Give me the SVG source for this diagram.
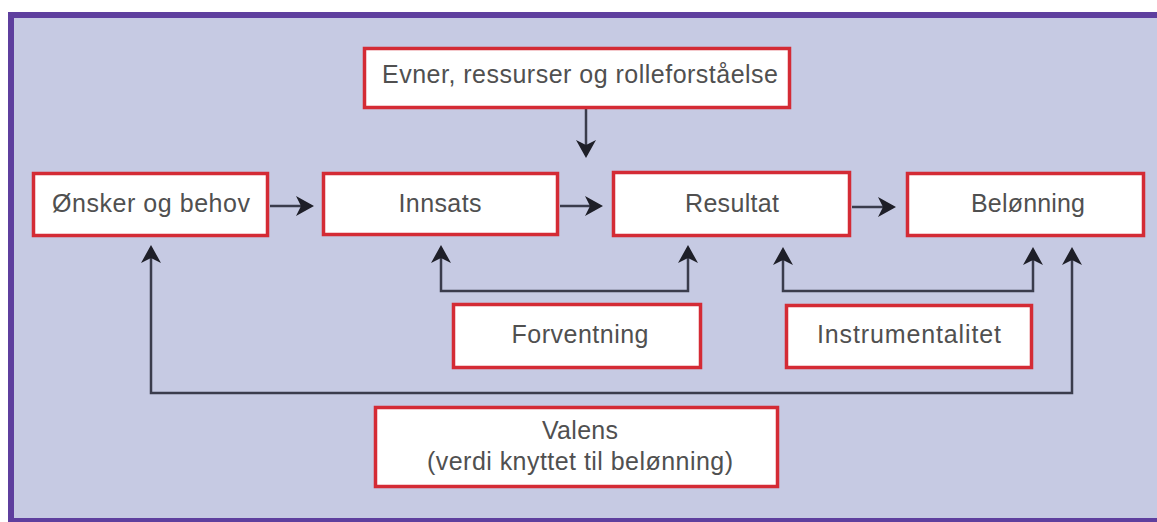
<svg xmlns="http://www.w3.org/2000/svg" width="1157" height="522" viewBox="0 0 1157 522">
<style>
.box{fill:#ffffff;stroke:#d42b35;stroke-width:3.5}
.lbl{font-family:"Liberation Sans",Arial,sans-serif;font-size:25px;fill:#505050;text-anchor:middle}
.con{fill:none;stroke:#3a3c4c;stroke-width:2.5}
</style>
<defs>
<marker id="ah" markerUnits="userSpaceOnUse" viewBox="-18 -12 22 24" refX="0" refY="0" markerWidth="22" markerHeight="24" orient="auto-start-reverse">
<path d="M3,0 L-15,-10 L-10,0 L-15,10 Z" fill="#1e1f28"/>
</marker>
</defs>
<rect x="0" y="0" width="1157" height="522" fill="#ffffff"/>
<rect x="11" y="15" width="1200" height="506" fill="#c6cae3" stroke="#5e3f9e" stroke-width="6"/>
<g id="connectors">
<line class="con" x1="586" y1="109" x2="586" y2="155" marker-end="url(#ah)"/>
<line class="con" x1="270" y1="206" x2="311" y2="206" marker-end="url(#ah)"/>
<line class="con" x1="560" y1="206" x2="600" y2="206" marker-end="url(#ah)"/>
<line class="con" x1="852" y1="207" x2="893" y2="207" marker-end="url(#ah)"/>
<path class="con" d="M441,248 L441,291 L688,291 L688,248" marker-start="url(#ah)" marker-end="url(#ah)"/>
<path class="con" d="M783,250 L783,291 L1033,291 L1033,250" marker-start="url(#ah)" marker-end="url(#ah)"/>
<path class="con" d="M151,248 L151,393 L1072,393 L1072,250" marker-start="url(#ah)" marker-end="url(#ah)"/>
</g>
<g id="evner">
<rect class="box" x="364.5" y="48.5" width="425" height="59"/>
<text class="lbl" x="580" y="83" textLength="396">Evner, ressurser og rolleforståelse</text>
</g>
<g id="onsker">
<rect class="box" x="33.5" y="173.5" width="234" height="62"/>
<text class="lbl" x="151" y="212" textLength="198">Ønsker og behov</text>
</g>
<g id="innsats">
<rect class="box" x="323.5" y="173.5" width="234" height="61"/>
<text class="lbl" x="440" y="212" textLength="83">Innsats</text>
</g>
<g id="resultat">
<rect class="box" x="613.5" y="172.5" width="236" height="63"/>
<text class="lbl" x="732" y="212" textLength="94">Resultat</text>
</g>
<g id="belonning">
<rect class="box" x="907.5" y="173.5" width="236" height="62"/>
<text class="lbl" x="1028" y="212" textLength="114">Belønning</text>
</g>
<g id="forventning">
<rect class="box" x="453.5" y="304.5" width="247" height="63"/>
<text class="lbl" x="580" y="343" textLength="137">Forventning</text>
</g>
<g id="instrumentalitet">
<rect class="box" x="786.5" y="305.5" width="245" height="62"/>
<text class="lbl" x="909" y="343" textLength="184">Instrumentalitet</text>
</g>
<g id="valens">
<rect class="box" x="375.5" y="407.5" width="402" height="79"/>
<text class="lbl" x="580" y="439" textLength="76">Valens</text>
<text class="lbl" x="580" y="470" textLength="306">(verdi knyttet til belønning)</text>
</g>
</svg>
